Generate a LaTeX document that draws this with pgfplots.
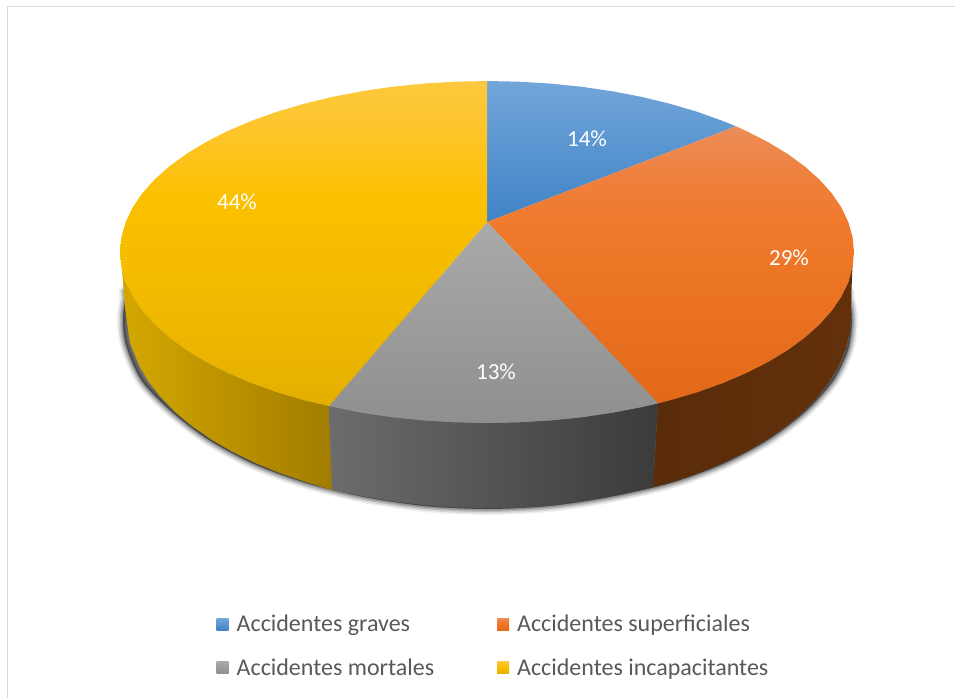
\documentclass[border=0pt]{standalone}
\usepackage{pgfplots}
\pgfplotsset{compat=1.18}
\usepackage{pgfplotstable}
\usepackage{fontspec}
\setmainfont{Carlito}

\definecolor{txt}{HTML}{595959}
\definecolor{frame}{HTML}{D9D9D9}
% top faces
\definecolor{blueA}{HTML}{72A5DA}
\definecolor{blueB}{HTML}{3F83C6}
\definecolor{orangeA}{HTML}{EC8D58}
\definecolor{orangeN}{HTML}{EF7F3C}
\definecolor{orangeM}{HTML}{F0792B}
\definecolor{orangeB}{HTML}{E36918}
\definecolor{grayA}{HTML}{AAAAAA}
\definecolor{grayB}{HTML}{8F8F8F}
\definecolor{yellowA}{HTML}{FDC83E}
\definecolor{yellowN}{HTML}{FDC52B}
\definecolor{yellowM}{HTML}{FBC000}
\definecolor{yellowL}{HTML}{F2BA00}
\definecolor{yellowB}{HTML}{E3AF00}
% side walls
\definecolor{wallYa}{HTML}{D4A800}
\definecolor{wallYb}{HTML}{A27C00}
\definecolor{wallGa}{HTML}{6C6C6C}
\definecolor{wallGb}{HTML}{3B3B3B}
\definecolor{wallOa}{HTML}{5A2C0A}
\definecolor{wallOb}{HTML}{63300A}

% the pale sheen sits at the top of the pie, so these need more than three stops
\pgfdeclareverticalshading{orangetop}{100bp}{color(0bp)=(orangeB); color(25bp)=(orangeB);
  color(57.5bp)=(orangeM); color(65bp)=(orangeN); color(75bp)=(orangeA); color(100bp)=(orangeA)}
\pgfdeclareverticalshading{yellowtop}{100bp}{color(0bp)=(yellowB); color(25bp)=(yellowB);
  color(41.3bp)=(yellowL); color(56.7bp)=(yellowM); color(67.5bp)=(yellowN);
  color(75bp)=(yellowA); color(100bp)=(yellowA)}

% outline of the drop shadow under the pie, in picture pixels
\pgfplotstableread{
x y
126 296
123 318
126 345
142 381
172 412
209 440
254 464
306 483
364 497
424 506
487 509
550 506
610 497
671 483
723 464
768 440
805 412
833 381
848 350
852 322
849 300
835 288
700 280
300 280
142 286
126 296
}\shadowpts

\begin{document}
\begin{tikzpicture}
\begin{axis}[
  scale only axis,
  width=955pt,
  height=698pt,
  xmin=0, xmax=955,
  ymin=0, ymax=698,
  y dir=reverse,
  axis lines=none,
  legend columns=2,
  legend cell align=left,
  legend image code/.code={
    \path[#1] (0pt,-6pt) rectangle (12pt,6pt);
    \path (0pt,0pt) -- (18pt,0pt);
  },
  legend style={
    at={(axis cs:213.5,611)}, anchor=north west,
    draw=none, fill=none,
    font=\fontsize{24}{28}\selectfont\color{txt},
    row sep=21pt,
    /tikz/every even column/.append style={column sep=61pt},
  },
]

% keeps the page as large as the axis box
\addplot[draw=none, forget plot] coordinates {(0,0) (955,698)};

% chart frame: only left and top show
\addplot[frame, line width=1.5pt, forget plot] coordinates {(7.5,698) (7.5,6.5) (955,6.5)};

% shadow, soft edge built from stacked strokes
\addplot[smooth, draw=black, opacity=.06, line width=12pt, forget plot] table {\shadowpts};
\addplot[smooth, draw=black, opacity=.1, line width=9pt, forget plot] table {\shadowpts};
\addplot[smooth, draw=black, opacity=.15, line width=6pt, forget plot] table {\shadowpts};
\addplot[smooth, draw=black, opacity=.2, line width=3pt, forget plot] table {\shadowpts};
\addplot[smooth, draw=none, fill=black, opacity=.5, forget plot] table {\shadowpts};

% side walls
\addplot[draw=none, left color=wallYa, right color=wallYb, forget plot] coordinates {
  (329,406) (303.5,400.1) (276.5,392.1) (251.1,383) (227.5,372.9) (205.9,361.9) (186.4,350.1)
  (169.2,337.5) (154.4,324.3) (142.1,310.5) (132.5,296.3) (125.6,281.7) (121.4,267)
  (122,270) (125,307) (130,343) (139.3,365.7) (148.7,381.7) (160.7,397.1) (175.2,412)
  (192.1,426.1) (211.2,439.4) (232.4,451.8) (255.6,463.1) (280.5,473.3) (307,482.3) (332,490)
};
\addplot[draw=none, left color=wallGa, right color=wallGb, forget plot] coordinates {
  (329,406) (361.5,412.7) (392,417.2) (423.3,420.4) (455,422.3) (487,423) (519,422.3) (550.7,420.4)
  (582,417.2) (612.5,412.7) (642.1,407) (658,403.3)
  (653,487) (610,496.4) (580.2,501.5) (549.5,505.1) (518.4,507.3) (487,508) (455.6,507.3)
  (424.5,505.1) (393.8,501.5) (363.9,496.4) (332,490)
};
\addplot[draw=none, left color=wallOa, right color=wallOb, forget plot] coordinates {
  (658,403.3) (670.5,400.1) (697.5,392.1) (722.9,383) (746.5,372.9) (768.1,361.9) (787.6,350.1)
  (804.8,337.5) (819.6,324.3) (831.9,310.5) (841.5,296.3) (848.4,281.7) (852.6,263)
  (851.5,290) (851,316) (849.6,332.7) (845.5,349.3) (838.7,365.7) (829.3,381.7) (817.3,397.1)
  (802.8,412) (785.9,426.1) (766.8,439.4) (745.6,451.8) (722.4,463.1) (697.5,473.3) (671,482.3) (653,487)
};

% top faces
\addplot[draw=none, top color=blueA, bottom color=blueB] coordinates {
  (487,222) (487,81) (519,81.7) (550.7,83.6) (582,86.8) (612.5,91.3) (642.1,97) (670.5,103.9)
  (697.5,111.9) (722.9,121) (736,126.3)
};
\addlegendentry{Accidentes graves}
\addplot[draw=none, shade, shading=orangetop] coordinates {
  (487,222) (736,126.3) (746.5,131.1) (768.1,142.1) (787.6,153.9) (804.8,166.5) (819.6,179.7)
  (831.9,193.5) (841.5,207.7) (848.4,222.3) (852.6,237.1) (854,252) (852.6,266.9)
  (848.4,281.7) (841.5,296.3) (831.9,310.5) (819.6,324.3) (804.8,337.5) (787.6,350.1)
  (768.1,361.9) (746.5,372.9) (722.9,383) (697.5,392.1) (670.5,400.1) (658,403.3)
};
\addlegendentry{Accidentes superficiales}
\addplot[draw=none, top color=grayA, bottom color=grayB] coordinates {
  (487,222) (658,403.3) (642.1,407) (612.5,412.7) (582,417.2) (550.7,420.4) (519,422.3) (487,423)
  (455,422.3) (423.3,420.4) (392,417.2) (361.5,412.7) (329,406)
};
\addlegendentry{Accidentes mortales}
\addplot[draw=none, shade, shading=yellowtop] coordinates {
  (487,222) (329,406) (303.5,400.1) (276.5,392.1) (251.1,383) (227.5,372.9) (205.9,361.9)
  (186.4,350.1) (169.2,337.5) (154.4,324.3) (142.1,310.5) (132.5,296.3) (125.6,281.7)
  (121.4,266.9) (120,252) (121.4,237.1) (125.6,222.3) (132.5,207.7) (142.1,193.5) (154.4,179.7)
  (169.2,166.5) (186.4,153.9) (205.9,142.1) (227.5,131.1) (251.1,121) (276.5,111.9)
  (303.5,103.9) (331.9,97) (361.5,91.3) (392,86.8) (423.3,83.6) (455,81.7) (487,81)
};
\addlegendentry{Accidentes incapacitantes}

% data labels
\node[white, font=\fontsize{23}{27}\selectfont] at (axis cs:587,139) {14\%};
\node[white, font=\fontsize{23}{27}\selectfont] at (axis cs:789,258) {29\%};
\node[white, font=\fontsize{23}{27}\selectfont] at (axis cs:496,372) {13\%};
\node[white, font=\fontsize{23}{27}\selectfont] at (axis cs:237,202) {44\%};

\end{axis}
\end{tikzpicture}
\end{document}
